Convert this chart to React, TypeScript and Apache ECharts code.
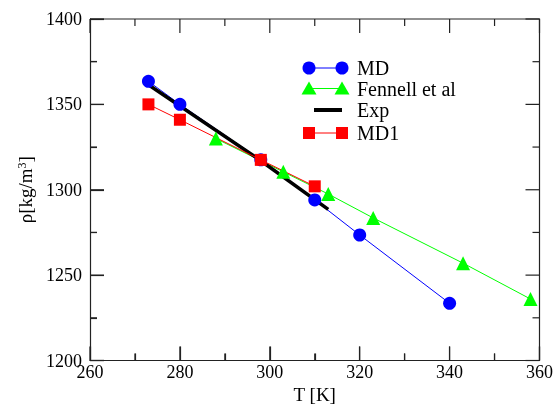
import React, { useEffect, useRef } from "react";
import * as echarts from "echarts";

const mdT = [273, 280, 298, 310, 320, 340];
const mdRho = [1363.5, 1350, 1317.5, 1294, 1273.5, 1233.5];
const fenT = [288, 303, 313, 323, 343, 358];
const fenRho = [1330, 1310.5, 1297.5, 1283.5, 1257, 1236];
const expT = [273, 298, 313];
const expRho = [1361.5, 1317, 1288.5];
const md1T = [273, 280, 298, 310];
const md1Rho = [1350, 1341, 1317.5, 1302];

const xMin = 260, xMax = 360, xStep = 20;
const yMin = 1200, yMax = 1400, yStep = 50;
const xMajorTicks = [260, 280, 300, 320, 340, 360];
const xMinorTicks = [270, 290, 310, 330, 350];
const yMajorTicks = [1200, 1250, 1300, 1350, 1400];
const yMinorTicks = [1225, 1275, 1325, 1375];

const FONT = "Liberation Serif";
const AX = "#222";

const zip = (a: number[], b: number[]) => a.map((v, i) => [v, b[i]]);

export default function App() {
  const ref = useRef<HTMLDivElement>(null);
  useEffect(() => {
    if (!ref.current) return;
    const chart = echarts.init(ref.current, undefined, { renderer: "svg" });
    const legendRows = [
      { y: 68, name: "MD", color: "#0000ff", sym: "circle" },
      { y: 88.5, name: "Fennell et al", color: "#00ff00", sym: "triangle" },
      { y: 110, name: "Exp", color: "#000000", sym: "none" },
      { y: 133, name: "MD1", color: "#ff0000", sym: "rect" },
    ];
    const graphics: any[] = [];
    legendRows.forEach((r) => {
      if (r.sym === "none") {
        graphics.push({ type: "line", shape: { x1: 314, y1: r.y, x2: 342, y2: r.y }, style: { stroke: "#000", lineWidth: 4 } });
      } else {
        graphics.push({ type: "line", shape: { x1: 309, y1: r.y, x2: 342, y2: r.y }, style: { stroke: r.color, lineWidth: 1 } });
        [309, 342].forEach((cx) => {
          if (r.sym === "circle") graphics.push({ type: "circle", shape: { cx, cy: r.y, r: 6.5 }, style: { fill: r.color } });
          if (r.sym === "rect") graphics.push({ type: "rect", shape: { x: cx - 6, y: r.y - 6, width: 12, height: 12 }, style: { fill: r.color } });
          if (r.sym === "triangle") graphics.push({ type: "polygon", shape: { points: [[cx, r.y - 7], [cx + 7.5, r.y + 6], [cx - 7.5, r.y + 6]] }, style: { fill: r.color } });
        });
      }
      graphics.push({ type: "text", x: 357, y: r.y, style: { text: r.name, fontFamily: FONT, fontSize: 20, fill: "#000", verticalAlign: "middle" } });
    });
    const fmt = (v: number) => String(v);
    // ticks on all four sides, placed through the axes' scales
    const tickSeries = (vals: number[], isX: boolean, len: number) => ({
      type: "custom",
      data: vals.map((v) => (isX ? [v, yMin] : [xMin, v])),
      renderItem: (_p: any, api: any) => {
        if (isX) {
          const v = api.value(0);
          const b = api.coord([v, yMin]);
          const t = api.coord([v, yMax]);
          return {
            type: "group",
            children: [
              { type: "line", shape: { x1: b[0], y1: b[1], x2: b[0], y2: b[1] - len }, style: { stroke: AX, lineWidth: 1.2 } },
              { type: "line", shape: { x1: t[0], y1: t[1], x2: t[0], y2: t[1] + len }, style: { stroke: AX, lineWidth: 1.2 } },
            ],
          };
        }
        const v = api.value(1);
        const l = api.coord([xMin, v]);
        const r = api.coord([xMax, v]);
        return {
          type: "group",
          children: [
            { type: "line", shape: { x1: l[0], y1: l[1], x2: l[0] + len, y2: l[1] }, style: { stroke: AX, lineWidth: 1.2 } },
            { type: "line", shape: { x1: r[0], y1: r[1], x2: r[0] - len, y2: r[1] }, style: { stroke: AX, lineWidth: 1.2 } },
          ],
        };
      },
    });
    const frameSeries = {
      type: "custom",
      data: [[xMin, yMin]],
      renderItem: (_p: any, api: any) => {
        const a = api.coord([xMin, yMax]);
        const b = api.coord([xMax, yMax]);
        const c = api.coord([xMax, yMin]);
        return {
          type: "polyline",
          shape: { points: [a, b, c] },
          style: { stroke: AX, lineWidth: 1.2, fill: "none" },
        };
      },
    };
    chart.setOption({
      animation: false,
      grid: { left: 90, right: 17.5, top: 19, bottom: 44.5, outerBoundsMode: "none" },
      xAxis: {
        type: "value", min: xMin, max: xMax, interval: xStep,
        name: "T [K]", nameLocation: "middle", nameGap: 20,
        nameTextStyle: { fontFamily: FONT, fontSize: 19, color: "#000" },
        axisLine: { show: true, lineStyle: { color: AX, width: 1.2 } },
        axisTick: { show: true, inside: true, length: 14, lineStyle: { color: AX, width: 1.2 } },
        minorTick: { show: true, splitNumber: 2, length: 7, lineStyle: { color: AX, width: 1.2 } },
        splitLine: { show: true, lineStyle: { opacity: 0 } },
        axisLabel: { fontFamily: FONT, fontSize: 18, color: "#000", margin: 2, formatter: fmt },
      },
      yAxis: {
        type: "value", min: yMin, max: yMax, interval: yStep,
        name: "{a|ρ[kg/m}{s|3}{a|]}", nameLocation: "middle", nameGap: 52, nameRotate: 90,
        nameTextStyle: {
          fontFamily: FONT, color: "#000",
          rich: {
            a: { fontFamily: FONT, fontSize: 19, color: "#000", verticalAlign: "bottom" },
            s: { fontFamily: FONT, fontSize: 12, color: "#000", verticalAlign: "top" },
          },
        },
        axisLine: { show: true, lineStyle: { color: AX, width: 1.2 } },
        axisTick: { show: true, inside: true, length: 14, lineStyle: { color: AX, width: 1.2 } },
        minorTick: { show: true, splitNumber: 2, length: 7, lineStyle: { color: AX, width: 1.2 } },
        splitLine: { show: true, lineStyle: { opacity: 0 } },
        axisLabel: { fontFamily: FONT, fontSize: 18, color: "#000", margin: 8, formatter: fmt },
      },
      series: [
        frameSeries,
        tickSeries(xMajorTicks, true, 14),
        tickSeries(xMinorTicks, true, 7),
        tickSeries(yMajorTicks, false, 14),
        tickSeries(yMinorTicks, false, 7),
        {
          name: "MD", type: "line", data: zip(mdT, mdRho), symbol: "circle", symbolSize: 13,
          itemStyle: { color: "#0000ff" }, lineStyle: { color: "#0000ff", width: 1 },
        },
        {
          name: "Fennell et al", type: "line", data: zip(fenT, fenRho), symbol: "triangle", symbolSize: 14,
          itemStyle: { color: "#00ff00" }, lineStyle: { color: "#00ff00", width: 1 },
        },
        {
          name: "Exp", type: "line", data: zip(expT, expRho), symbol: "none",
          lineStyle: { color: "#000", width: 3.5 },
        },
        {
          name: "MD1", type: "line", data: zip(md1T, md1Rho), symbol: "rect", symbolSize: 12,
          itemStyle: { color: "#ff0000" }, lineStyle: { color: "#ff0000", width: 1 },
        },
      ],
      graphic: graphics,
    });
    return () => chart.dispose();
  }, []);
  return <div ref={ref} style={{ position: "fixed", left: 0, top: 0, width: 557, height: 405 }} />;
}
